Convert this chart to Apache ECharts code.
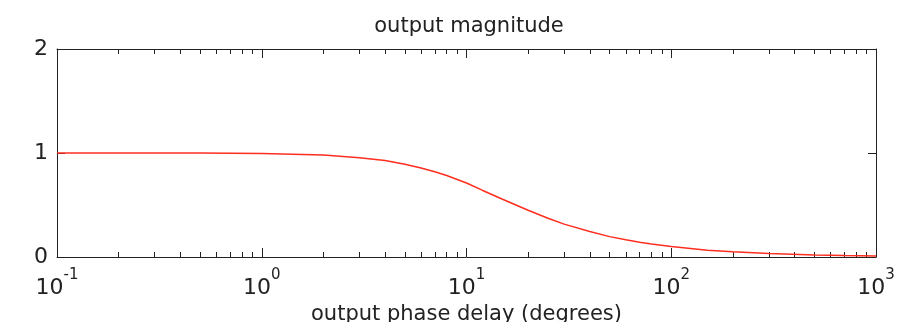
<!DOCTYPE html>
<html>
<head>
<meta charset="utf-8">
<script src="https://cdn.jsdelivr.net/npm/echarts@6/dist/echarts.min.js"></script>
<style>html,body{margin:0;padding:0;background:#fff;}#c{width:901px;height:322px;}</style>
</head>
<body>
<div id="c"></div>
<script>
// frequency (x, log axis) and magnitude (y)
const freq = [0.1, 0.2, 0.5, 1, 2, 3, 4, 5, 6, 7, 8, 10, 12, 15, 20, 25, 30, 40, 50, 60, 70, 80, 100, 150, 200, 300, 500, 700, 1000];
const magnitude = [1, 1, 1, 0.995, 0.98, 0.955, 0.928, 0.892, 0.856, 0.82, 0.783, 0.712, 0.64, 0.555, 0.45, 0.372, 0.316, 0.245, 0.196, 0.165, 0.142, 0.124, 0.1, 0.066, 0.05, 0.033, 0.02, 0.014, 0.01];
const xMajorTicks = [0.1, 1, 10, 100, 1000];
const xTickExponents = ['-1', '0', '1', '2', '3'];
const xMinorTicks = [0.2, 0.3, 0.4, 0.5, 0.6, 0.7, 0.8, 0.9, 2, 3, 4, 5, 6, 7, 8, 9, 20, 30, 40, 50, 60, 70, 80, 90, 200, 300, 400, 500, 600, 700, 800, 900];
const yTicks = [0, 1, 2];
const titleText = 'output magnitude';
const xAxisName = 'output phase delay (degrees)';

const FONT = 'DejaVu Sans';
const AX = '#222222';
const chart = echarts.init(document.getElementById('c'), null, {renderer: 'canvas'});

function majorLabel(v) {
  let idx = xMajorTicks.findIndex(m => Math.abs(m - v) / m < 1e-6);
  if (idx < 0) return '';
  return '{b|10}{s|' + xTickExponents[idx] + '}';
}

const common = {type: 'log', logBase: 10, min: 0.1, max: 1000, splitLine: {show: false}};

chart.setOption({
  animation: false,
  backgroundColor: '#ffffff',
  title: {
    text: titleText, left: 464, top: 11, textAlign: 'center',
    textStyle: {fontFamily: FONT, fontSize: 21, fontWeight: 'normal', color: AX}
  },
  grid: {left: 57, right: 25, top: 49, bottom: 65, containLabel: false, outerBoundsMode: 'none'},
  xAxis: [
    Object.assign({}, common, {
      position: 'bottom',
      axisLine: {show: true, lineStyle: {color: AX, width: 1}},
      axisTick: {show: true, inside: true, length: 9, customValues: xMajorTicks, lineStyle: {color: AX}},
      axisLabel: {
        show: true, margin: 20, customValues: xMajorTicks, formatter: majorLabel,
        rich: {
          b: {fontFamily: FONT, fontSize: 22, lineHeight: 22, color: AX, verticalAlign: 'bottom'},
          s: {fontFamily: FONT, fontSize: 15, lineHeight: 15, color: AX, verticalAlign: 'bottom', padding: [0, 0, 16, 0]}
        }
      },
      name: xAxisName, nameLocation: 'middle', nameGap: 45,
      nameTextStyle: {fontFamily: FONT, fontSize: 21, color: AX}
    }),
    Object.assign({}, common, {
      position: 'bottom',
      axisLine: {show: false},
      axisTick: {show: true, inside: true, length: 5, customValues: xMinorTicks, lineStyle: {color: AX}},
      axisLabel: {show: false}
    }),
    Object.assign({}, common, {
      position: 'top',
      axisLine: {show: true, lineStyle: {color: AX, width: 1}},
      axisTick: {show: true, inside: true, length: 9, customValues: xMajorTicks, lineStyle: {color: AX}},
      axisLabel: {show: false}
    }),
    Object.assign({}, common, {
      position: 'top',
      axisLine: {show: false},
      axisTick: {show: true, inside: true, length: 5, customValues: xMinorTicks, lineStyle: {color: AX}},
      axisLabel: {show: false}
    })
  ],
  yAxis: [
    {
      type: 'value', min: 0, max: 2, interval: 1, position: 'left',
      splitLine: {show: false},
      axisLine: {show: true, lineStyle: {color: AX, width: 1}},
      axisTick: {show: true, inside: true, length: 8, customValues: yTicks, lineStyle: {color: AX}},
      axisLabel: {show: true, margin: 9, customValues: yTicks, fontFamily: FONT, fontSize: 22, color: AX}
    },
    {
      type: 'value', min: 0, max: 2, interval: 1, position: 'right',
      splitLine: {show: false},
      axisLine: {show: true, lineStyle: {color: AX, width: 1}},
      axisTick: {show: true, inside: true, length: 8, customValues: yTicks, lineStyle: {color: AX}},
      axisLabel: {show: false}
    }
  ],
  series: [{
    type: 'line', xAxisIndex: 0, yAxisIndex: 0,
    data: freq.map((f, i) => [f, magnitude[i]]),
    showSymbol: false, symbol: 'none', smooth: false,
    lineStyle: {color: '#ff2e1f', width: 1.5},
    z: 1
  }]
});
</script>
</body>
</html>
